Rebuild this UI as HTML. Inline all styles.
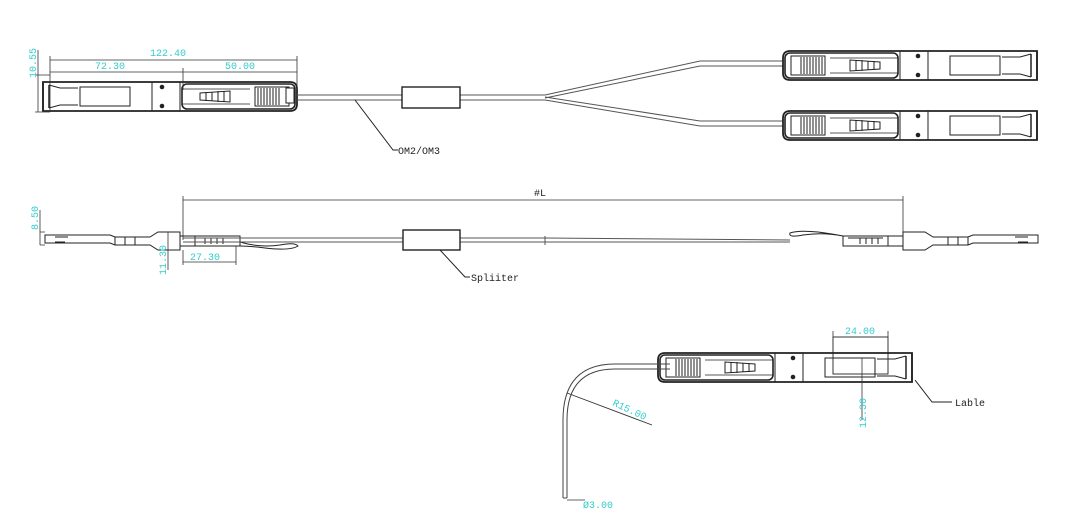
<!DOCTYPE html>
<html><head><style>
html,body{margin:0;padding:0;background:#fff}
svg{display:block}
text{font-family:"Liberation Mono",monospace}
.c{fill:#3cc;font-size:10px}
.k{fill:#222;font-size:10px}
</style></head><body>
<svg width="1068" height="518" viewBox="0 0 1068 518" xmlns="http://www.w3.org/2000/svg">
<defs>
<g id="conn">
<path d="M3 1 H250 Q257 1 257 8 V23 Q257 30 250 30 H3 Z" fill="#fff" stroke="#222" stroke-width="1.8"/>
<path d="M3 1 V30 M9 4 V27" stroke="#222" stroke-width="1.5" fill="none"/>
<path d="M9 4 L20 7 H38 M9 27 L20 24 H38" stroke="#222" fill="none"/>
<rect x="40" y="6" width="50" height="19" fill="#fff" stroke="#222"/>
<line x1="112" y1="1" x2="112" y2="30" stroke="#222"/>
<circle cx="122" cy="6" r="2.3" fill="#222"/><circle cx="122" cy="25" r="2.3" fill="#222"/>
<line x1="140" y1="1" x2="140" y2="30" stroke="#222"/>
<rect x="142" y="3" width="113" height="25" rx="5" fill="#fff" stroke="#222" stroke-width="1.6"/>
<path d="M142 8 H210 M142 23 H210" stroke="#222" stroke-width="0.8"/>
<path d="M160 12 L190 10 V21 L160 19 Z" fill="#fff" stroke="#222"/>
<path d="M166 11 V20 M172 11 V20 M178 10 V21 M184 10 V21" stroke="#222"/>
<rect x="215" y="6" width="34" height="19" fill="#fff" stroke="#222"/>
<path d="M218 7 V24 M221 7 V24 M224 7 V24 M227 7 V24 M230 7 V24 M233 7 V24 M236 7 V24 M239 7 V24" stroke="#222" stroke-width="1"/>
</g>
</defs>

<use href="#conn" x="40" y="81"/>
<rect x="286" y="88" width="8" height="15" fill="#fff" stroke="#222"/>
<path d="M297 95 H402 M297 100 H402 M460 95 H545 M460 100 H545" stroke="#555" stroke-width="1"/>
<rect x="402" y="87" width="58" height="21" fill="#fff" stroke="#222" stroke-width="1.4"/>
<path d="M545 95 L700 61 H795 M545 98 L700 66 H795 M545 97 L700 121 H795 M545 100 L700 126 H795" stroke="#555" fill="none"/>
<g transform="translate(1040,50) scale(-1,1)"><use href="#conn"/></g>
<g transform="translate(1040,110) scale(-1,1)"><use href="#conn"/></g>
<path d="M50 60 H297 M50 56 V112 M297 56 V90 M50 72 H183 M183 68 V90 M183 72 H297" stroke="#333" stroke-width="0.8"/>
<path d="M35 75 H50 M35 112 H50 M38 50 V112" stroke="#333" stroke-width="0.8"/>
<text class="c" x="150" y="56">122.40</text>
<text class="c" x="95" y="69">72.30</text>
<text class="c" x="225" y="69">50.00</text>
<text class="c" transform="translate(36,78) rotate(-90)">10.55</text>
<path d="M355 100 L393 150 H398" stroke="#222" fill="none"/>
<text class="k" x="398" y="154">OM2/OM3</text>

<path d="M183 200 H903 M183 196 V240 M903 196 V240" stroke="#333" stroke-width="0.8"/>
<text class="k" x="534" y="196">#L</text>
<path d="M40 210 V245 M40 232 H45 M40 245 H45" stroke="#333" stroke-width="0.8"/>
<text class="c" transform="translate(38,230) rotate(-90)">8.50</text>
<path d="M45 235 H110 L115 237 H150 L158 232 H180 V250 H158 L150 245 H115 L110 243 H45 Z" fill="#fff" stroke="#222"/>
<path d="M55 237 H68 M55 242 H65 M115 237 V245 M125 237 V245 M135 237 V245" stroke="#222"/>
<path d="M180 236 H240 V246 H180 M195 236 V246 M200 238 H235 M205 238 V244 M211 238 V244 M217 238 V244 M223 238 V244" stroke="#222" fill="none"/>
<path d="M240 242 Q260 248 280 245 Q295 242 298 246 Q290 251 265 248 Q250 246 240 246" stroke="#222" fill="none"/>
<path d="M168 232 V270 M183 250 V265 M183 262 H236 M236 246 V265" stroke="#333" stroke-width="0.8"/>
<text class="c" transform="translate(166,275) rotate(-90)">11.30</text>
<text class="c" x="190" y="260">27.30</text>
<path d="M183 238 H403 M183 242 H403 M460 238 H545 M460 242 H545 M545 238 L790 240 M545 242 L790 242" stroke="#555" fill="none"/>
<rect x="403" y="230" width="57" height="20" fill="#fff" stroke="#222" stroke-width="1.4"/>
<path d="M545 236 V245" stroke="#555"/>
<path d="M440 250 L465 277 H470" stroke="#222" fill="none"/>
<text class="k" x="471" y="281">Spliiter</text>
<g transform="translate(1083,0) scale(-1,1)">
<path d="M45 235 H110 L115 237 H150 L158 232 H180 V250 H158 L150 245 H115 L110 243 H45 Z" fill="#fff" stroke="#222"/>
<path d="M55 237 H68 M55 242 H65 M115 237 V245 M125 237 V245 M135 237 V245" stroke="#222"/>
<path d="M180 236 H240 V246 H180 M195 236 V246 M200 238 H235 M205 238 V244 M211 238 V244 M217 238 V244 M223 238 V244" stroke="#222" fill="none"/>
<path d="M240 236 Q260 232 280 235 Q295 238 293 233 Q285 230 265 232 Q250 234 240 236" stroke="#222" fill="none"/>
</g>

<g transform="translate(915,352) scale(-1,1)"><use href="#conn"/></g>
<rect x="833" y="337" width="55" height="37" fill="none" stroke="#222" stroke-width="0.9"/>
<path d="M833 337 V331 M888 337 V331" stroke="#333" stroke-width="0.8"/>
<text class="c" x="845" y="334">24.00</text>
<path d="M862 358 V420" stroke="#333" stroke-width="0.8"/>
<text class="c" transform="translate(866,428) rotate(-90)">12.30</text>
<path d="M915 380 L932 402 H952" stroke="#222" fill="none"/>
<text class="k" x="955" y="406">Lable</text>
<path d="M670 364 H615 Q563 364 563 420 V498 M670 369 H615 Q567 369 567 420 V498 M563 498 H567" stroke="#444" fill="none"/>
<path d="M567 393 L652 425" stroke="#333" stroke-width="0.9"/>
<text class="c" transform="translate(612,405) rotate(25)">R15.00</text>
<path d="M567 500 H585" stroke="#333" stroke-width="0.8"/>
<text class="c" x="583" y="508">Ø3.00</text>
</svg>
</body></html>
